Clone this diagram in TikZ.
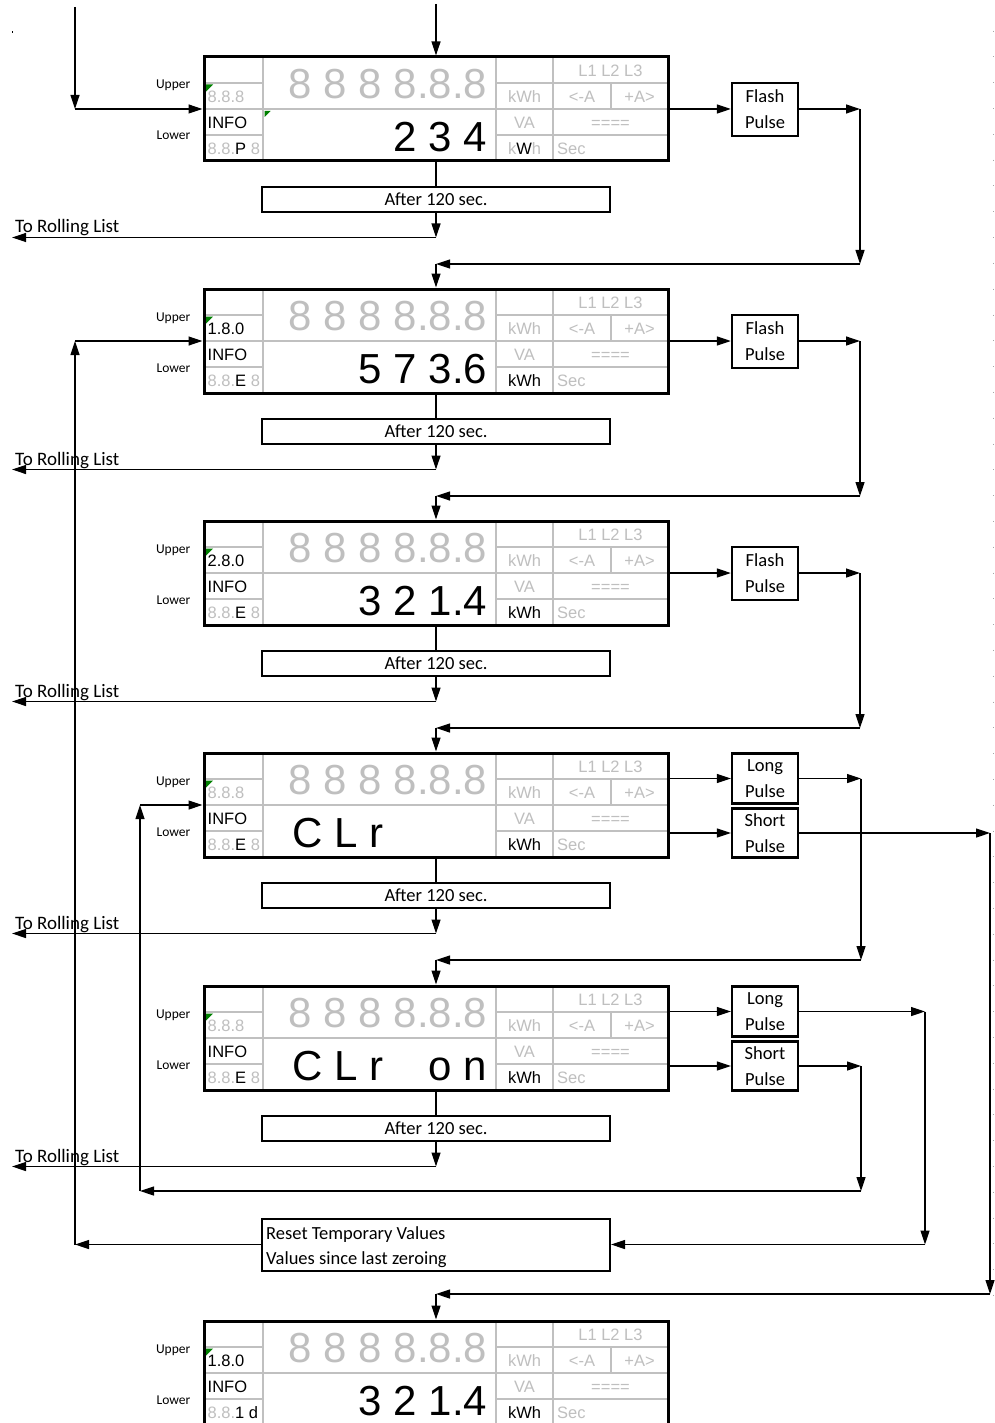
\documentclass[tikz,border=0pt]{standalone}
\usepackage{fontspec}
\setmainfont{Carlito}
\newfontfamily\arialf{Liberation Sans}
\usetikzlibrary{arrows.meta,calc}
\definecolor{lcdgrey}{HTML}{BFBFBF}
\definecolor{gridgrey}{HTML}{C0C0C0}
\definecolor{trigreen}{HTML}{008000}
\tikzset{
  arr/.style={line width=1.2pt, -{Triangle[length=14pt,width=9pt]}},
  conn/.style={line width=1.2pt},
  dispframe/.style={draw, line width=3pt, minimum width=464pt, minimum height=104pt, inner sep=0pt},
  gridln/.style={draw=gridgrey, line width=1.8pt},
  sm/.style={font=\arialf\fontsize{16.5}{18}\selectfont, inner sep=0pt},
  big/.style={font=\arialf\fontsize{42}{42}\selectfont, inner sep=0pt},
  lbl/.style={font=\fontsize{13.5}{15}\selectfont, inner sep=0pt, anchor=base east},
  pulsebox/.style={draw, line width=2.2pt, minimum width=66pt, inner sep=0pt, align=center, font=\fontsize{18.5}{26}\selectfont},
  afterbox/.style={draw, line width=2pt, minimum width=348pt, minimum height=25pt, inner sep=0pt, font=\fontsize{18.5}{20}\selectfont},
  roll/.style={font=\fontsize{19}{20}\selectfont, inner sep=0pt, anchor=base west},
  rsttext/.style={font=\fontsize{18.5}{20}\selectfont, inner sep=0pt, anchor=base west},
}
\newcommand{\meterframe}[5]{%
  \begin{scope}[shift={(0,#2)}]
    \draw[gridln] (263,0) -- (263,104) (496,0) -- (496,104) (553,0) -- (553,104) (611,26) -- (611,52)
      (204,26) -- (263,26) (496,26) -- (668,26) (204,52) -- (668,52) (204,78) -- (263,78) (496,78) -- (668,78);
    \fill[trigreen] (205.5,27.5) -- ++(7.5,0) -- ++(-7.5,7.5) -- cycle;
    \node[lbl] (#1-up) at (190.5,32) {Upper};
    \node[lbl] (#1-lo) at (190.5,83) {Lower};
    \node[big, text=lcdgrey, anchor=base east] (#1-eights) at (487.5,41.5) {8 8 8 8.8.8};
    \node[sm, anchor=base west] (#1-ul) at (207.5,45.5) {#3};
    \node[sm, anchor=base west] (#1-info) at (207.5,71.5) {INFO};
    \node[sm, anchor=base west] (#1-bl) at (207.5,97.5) {#4};
    \node[sm, text=lcdgrey, anchor=base] (#1-kwh) at (524.5,45.5) {kWh};
    \node[sm, text=lcdgrey, anchor=base] (#1-va) at (524.5,71.5) {VA};
    \node[sm, anchor=base] (#1-kwhb) at (524.5,97.5) {#5};
    \node[sm, text=lcdgrey, anchor=base] (#1-ph) at (610.5,19.5) {L1 L2 L3};
    \node[sm, text=lcdgrey, anchor=base] (#1-ma) at (582,45.5) {<-A};
    \node[sm, text=lcdgrey, anchor=base] (#1-pa) at (639.5,45.5) {+A>};
    \node[sm, text=lcdgrey, anchor=base] (#1-eq) at (610.5,71.5) {====};
    \node[sm, text=lcdgrey, anchor=base west] (#1-sec) at (557,97.5) {Sec};
  \end{scope}
  \node[dispframe] (#1) at (436,#2+52) {};
}
\begin{document}
\begin{tikzpicture}[x=1pt,y=-1pt]
\useasboundingbox (0,0) rectangle (994,1423);
\fill[white] (0,0) rectangle (994,1423);
\fill (11.5,31.5) rectangle (13,33);
\draw[gray!70, line width=1pt, dash pattern=on 1pt off 24.8pt] (993,30.7) -- (993,1300);

% displays
\meterframe{d1}{57}{\textcolor{lcdgrey}{8.8.8}}{\textcolor{lcdgrey}{8.8.}P \textcolor{lcdgrey}{8}}{\textcolor{lcdgrey}{k}W\textcolor{lcdgrey}{h}}
\fill[trigreen] (264.5,111) -- ++(6,0) -- ++(-6,6) -- cycle;
\node[big, anchor=base east] (d1-val) at (487.5,151.5) {2 3 4};

\meterframe{d2}{289}{1.8.0}{\textcolor{lcdgrey}{8.8.}E \textcolor{lcdgrey}{8}}{kWh}
\node[big, anchor=base east] (d2-val) at (487.5,383.5) {5 7 3.6};

\meterframe{d3}{521}{2.8.0}{\textcolor{lcdgrey}{8.8.}E \textcolor{lcdgrey}{8}}{kWh}
\node[big, anchor=base east] (d3-val) at (487.5,615.5) {3 2 1.4};

\meterframe{d4}{753}{\textcolor{lcdgrey}{8.8.8}}{\textcolor{lcdgrey}{8.8.}E \textcolor{lcdgrey}{8}}{kWh}
\node[big, anchor=base west] (d4-val) at (292,847.5) {C L r};

\meterframe{d5}{986}{\textcolor{lcdgrey}{8.8.8}}{\textcolor{lcdgrey}{8.8.}E \textcolor{lcdgrey}{8}}{kWh}
\node[big, anchor=base west] (d5-val) at (292,1080.5) {C L r};
\node[big, anchor=base east] (d5-val2) at (487.5,1080.5) {o n};

\meterframe{d6}{1321}{1.8.0}{\textcolor{lcdgrey}{8.8.}1 d}{kWh}
\node[big, anchor=base east] (d6-val) at (487.5,1415.5) {3 2 1.4};

% top inputs
\coordinate (t1) at (75,7);
\coordinate (t1c) at (75,109);
\draw[arr] (t1) -- (t1c);
\draw[arr] (t1c) -- (d1.west);
\coordinate (t2) at (436,4);
\draw[arr] (t2) -- (d1.north);

% flash pulse steps
\foreach \i/\tp/\ntp/\j in {1/57/289/2, 2/289/521/3, 3/521/753/4} {
  \node[pulsebox, line width=2.4pt, minimum height=53pt] (f\i) at (765,\tp+52.5) {Flash\\Pulse};
  \draw[arr] (d\i.east) -- (d\i.east -| f\i.west);
  \coordinate (fr\i) at (860,\tp+52);
  \coordinate (fd\i) at (860,\ntp-25);
  \coordinate (fl\i) at (436,\ntp-25);
  \draw[arr] (f\i.east |- fr\i) -- (fr\i);
  \draw[arr] (fr\i) -- (fd\i);
  \draw[arr] (fd\i) -- (fl\i);
  \draw[arr] (fl\i) -- (d\j.north);
}

% after 120 sec
\foreach \i/\tp in {1/57, 2/289, 3/521, 4/753, 5/986} {
  \node[afterbox] (a\i) at (436,\tp+142.5) {After 120 sec.};
  \draw[conn] (d\i.south) -- (a\i.north);
  \coordinate (ac\i) at (436,\tp+180.5);
  \coordinate (al\i) at (12,\tp+180.5);
  \draw[arr] (a\i.south) -- (ac\i);
  \draw[arr] (ac\i) -- (al\i);
  \node[roll] (rl\i) at (15,\tp+176) {To Rolling List};
}

% display 4 pulses
\node[pulsebox, minimum height=50pt] (l4) at (765,778.5) {Long\\Pulse};
\node[pulsebox, minimum height=49pt] (s4) at (765,833) {Short\\Pulse};
\draw[arr] (l4.west -| d4.east) -- (l4.west);
\draw[arr] (s4.west -| d4.east) -- (s4.west);
\coordinate (lr4) at (861,778.5);
\coordinate (ld4) at (861,960);
\coordinate (ll4) at (436,960);
\draw[arr] (l4.east) -- (lr4);
\draw[arr] (lr4) -- (ld4);
\draw[arr] (ld4) -- (ll4);
\draw[arr] (ll4) -- (d5.north);
\coordinate (sr4) at (990,833);
\coordinate (sd4) at (990,1294);
\coordinate (sl4) at (436,1294);
\draw[arr] (s4.east) -- (sr4);
\draw[arr] (sr4) -- (sd4);
\draw[arr] (sd4) -- (sl4);
\draw[arr] (sl4) -- (d6.north);

% display 5 pulses
\node[pulsebox, minimum height=50pt] (l5) at (765,1011.5) {Long\\Pulse};
\node[pulsebox, minimum height=49pt] (s5) at (765,1066) {Short\\Pulse};
\draw[arr] (l5.west -| d5.east) -- (l5.west);
\draw[arr] (s5.west -| d5.east) -- (s5.west);

% reset box
\node[draw, line width=2pt, minimum width=348pt, minimum height=52pt, inner sep=0pt] (rst) at (436,1244.5) {};
\node[rsttext] (rst-t1) at (266,1239) {Reset Temporary Values};
\node[rsttext] (rst-t2) at (266,1264) {Values since last zeroing};

\coordinate (lr5) at (925,1011.5);
\coordinate (ld5) at (925,1244.5);
\draw[arr] (l5.east) -- (lr5);
\draw[arr] (lr5) -- (ld5);
\draw[arr] (ld5) -- (rst.east);

\coordinate (sr5) at (861,1066);
\coordinate (sd5) at (861,1191);
\coordinate (sl5) at (140,1191);
\coordinate (su5) at (140,805);
\draw[arr] (s5.east) -- (sr5);
\draw[arr] (sr5) -- (sd5);
\draw[arr] (sd5) -- (sl5);
\draw[arr] (sl5) -- (su5);
\draw[arr] (su5) -- (d4.west);

\coordinate (rw) at (75,1244.5);
\coordinate (ru) at (75,341);
\draw[arr] (rst.west) -- (rw);
\draw[arr] (rw) -- (ru);
\draw[arr] (ru) -- (d2.west);
\end{tikzpicture}
\end{document}
